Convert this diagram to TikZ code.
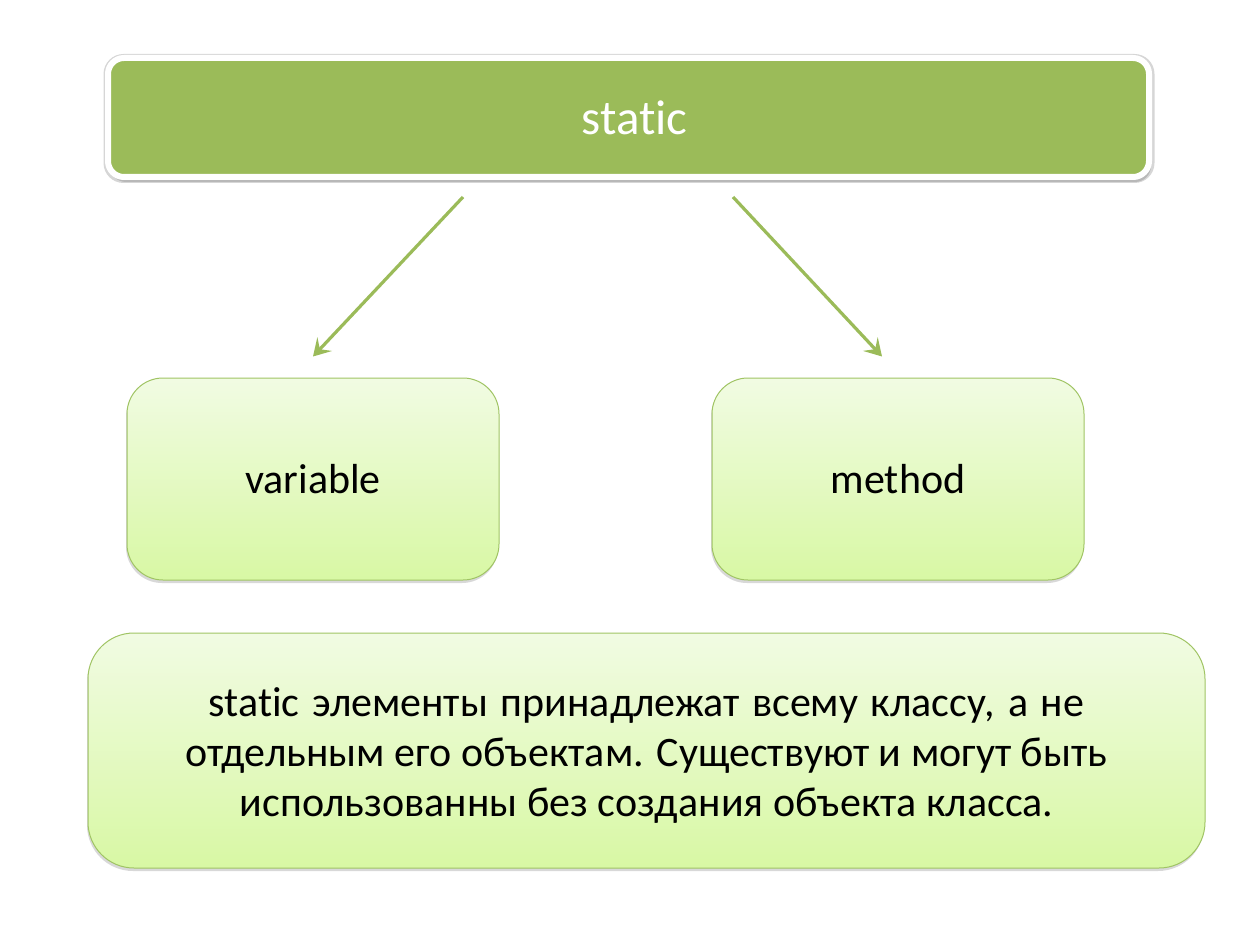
\documentclass[tikz,border=0pt]{standalone}
\usepackage{fontspec}
\setmainfont{Carlito}[Ligatures=NoCommon]
\usetikzlibrary{arrows.meta,shadows,positioning}
\definecolor{ogreen}{RGB}{155,187,89}
\definecolor{ltop}{RGB}{241,251,227}
\definecolor{lbot}{RGB}{216,248,164}
\definecolor{lborder}{RGB}{160,196,100}
\tikzset{
  topbox/.style={draw=white, line width=6pt, fill=ogreen, rounded corners=16pt,
    minimum width=1041pt, minimum height=119pt, text=white,
    font=\fontsize{49}{56}\selectfont,
    drop shadow={shadow xshift=2pt, shadow yshift=-5pt, opacity=0.3, fill=black!55}},
  litebox/.style={draw=lborder, line width=1pt, top color=ltop, bottom color=lbot,
    text=black, font=\fontsize{42}{50}\selectfont, align=center,
    drop shadow={shadow xshift=-1pt, shadow yshift=-3pt, opacity=0.25, fill=black!60}},
  bodytext/.style={text=black, font=\fontsize{42}{50}\selectfont, align=center},
  arr/.style={draw=ogreen, line width=3.2pt,
    -{Stealth[length=17pt,width=20pt,inset=7pt]}}
}
\begin{document}
\begin{tikzpicture}[x=1pt,y=-1pt]
\useasboundingbox (0,0) rectangle (1255,925);
\fill[white] (0,0) rectangle (1255,925);
\fill[black, opacity=0.16, rounded corners=20pt] (103.5,54) rectangle (1154.5,183);
\node[topbox] (top) at (628.5,117.5) {\hspace*{12pt}static};
\node[litebox, rounded corners=36pt, minimum width=372pt, minimum height=202pt] (var) at (313,479) {variable};
\node[litebox, rounded corners=36pt, minimum width=372pt, minimum height=202pt] (meth) at (898,479) {method};
\node[litebox, rounded corners=46pt, minimum width=1117pt, minimum height=235pt] (desc) at (646.5,750.5) {};
\node[bodytext] (desctext) at ([yshift=-5pt]desc.center)
  {\spaceskip=0.3em plus 0.1em static элементы принадлежат всему классу, а не\\
   отдельным его объектам. Существуют и могут быть\\
   использованны без создания объекта класса.};
\coordinate (s1) at (463,197);
\coordinate (s2) at (733,197);
\draw[arr] (s1) -- ([yshift=21pt]var.north);
\draw[arr] (s2) -- ([yshift=21pt,xshift=-16pt]meth.north);
\end{tikzpicture}
\end{document}
